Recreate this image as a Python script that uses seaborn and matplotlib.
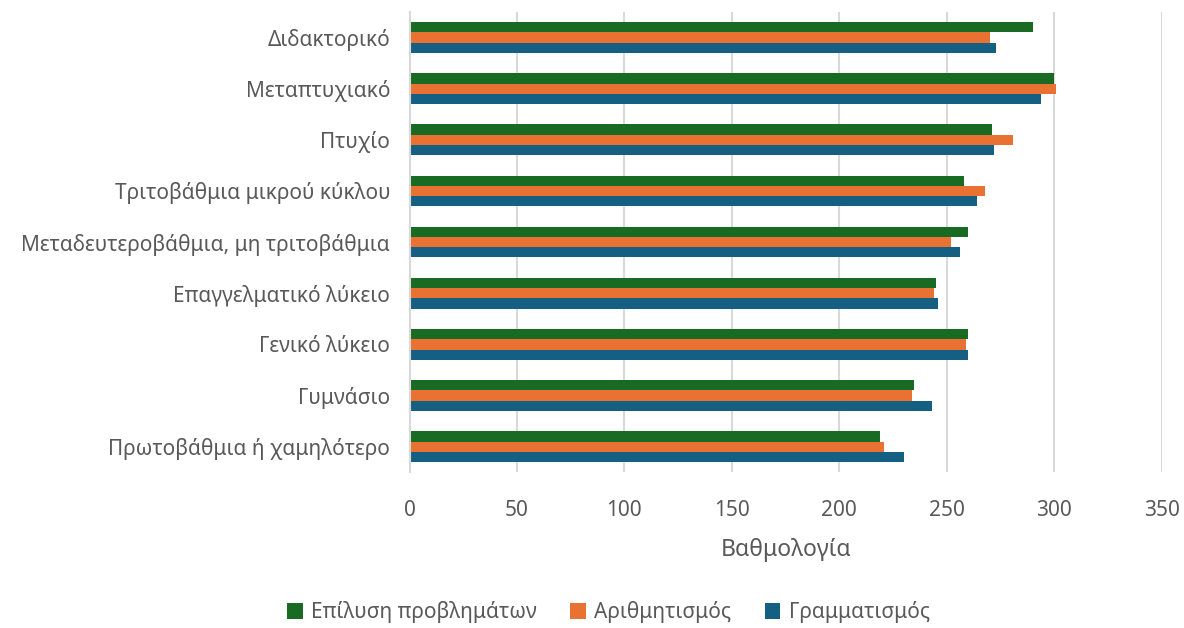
import pandas as pd
import seaborn as sns
import matplotlib.pyplot as plt

levels = ["Διδακτορικό", "Μεταπτυχιακό", "Πτυχίο", "Τριτοβάθμια μικρού κύκλου",
          "Μεταδευτεροβάθμια, μη τριτοβάθμια", "Επαγγελματικό λύκειο",
          "Γενικό λύκειο", "Γυμνάσιο", "Πρωτοβάθμια ή χαμηλότερο"]
problem_solving = [290, 300, 271, 258, 260, 245, 260, 235, 219]
numeracy = [270, 301, 281, 268, 252, 244, 259, 234, 221]
literacy = [273, 294, 272, 264, 256, 246, 260, 243, 230]
series = ["Επίλυση προβλημάτων", "Αριθμητισμός", "Γραμματισμός"]
colors = ["#196B24", "#E97132", "#156082"]

df = pd.DataFrame({
    "level": levels * 3,
    "score": problem_solving + numeracy + literacy,
    "series": [s for s in series for _ in levels],
})

sns.set_style("white")
plt.rcParams['font.family'] = ['Noto Sans', 'DejaVu Sans']

fig, ax = plt.subplots(figsize=(11.84, 6.28), dpi=100)
fig.subplots_adjust(left=0.346, right=0.981, top=0.981, bottom=0.248)

sns.barplot(data=df, y="level", x="score", hue="series", hue_order=series,
            order=levels, palette=colors, width=0.6, saturation=1,
            linewidth=0, ax=ax)

ax.set_xlim(0, 350)
ax.set_xticks(range(0, 351, 50))
ax.grid(axis="x", color="#D9D9D9", linewidth=1.5)
ax.set_axisbelow(True)
for s in ["top", "right", "bottom"]:
    ax.spines[s].set_visible(False)
ax.spines["left"].set_color("#D9D9D9")
ax.spines["left"].set_linewidth(1.5)
ax.tick_params(axis="both", length=0, labelsize=15, colors="#595959")
ax.tick_params(axis="y", pad=14)
ax.tick_params(axis="x", pad=20)
ax.set_ylabel("")
ax.set_xlabel("Βαθμολογία", fontsize=16.5, color="#595959", labelpad=12)

handles, labels = ax.get_legend_handles_labels()
ax.get_legend().remove()
fig.legend(handles, labels, loc="center", bbox_to_anchor=(0.514, 0.025),
           ncol=3, frameon=False, fontsize=15, handlelength=0.75, handleheight=0.75,
           columnspacing=1.6, handletextpad=0.4, labelcolor="#595959")

plt.savefig("out.png", dpi=100)
